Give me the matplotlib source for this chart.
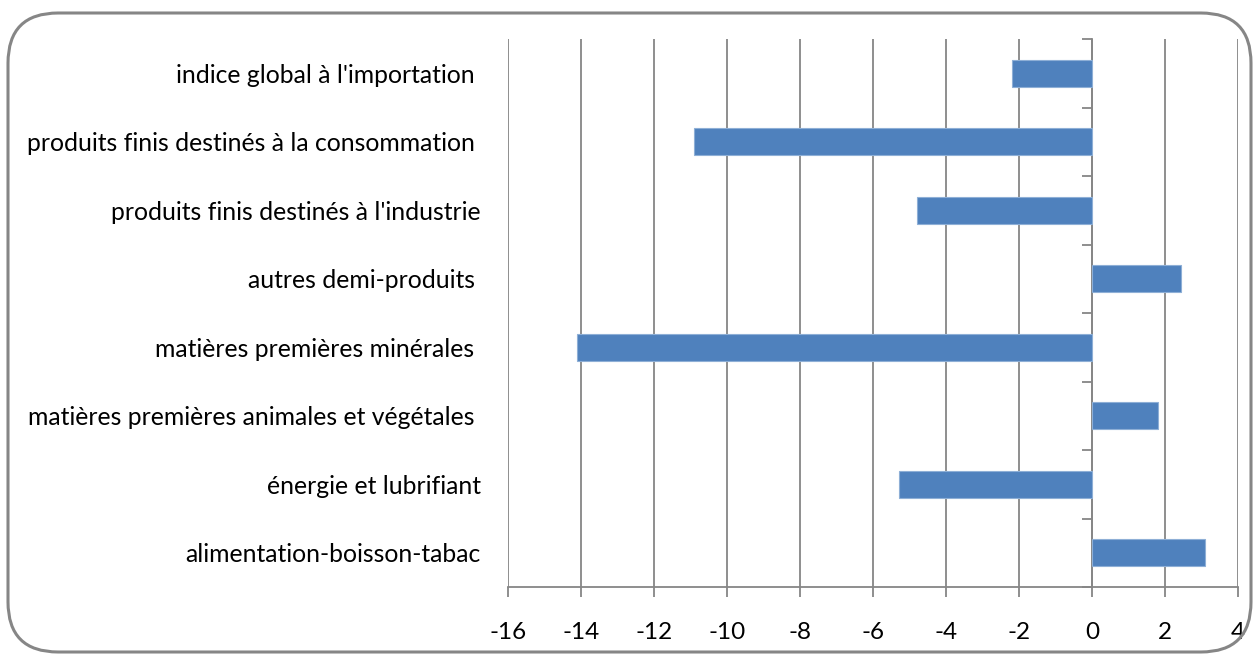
import matplotlib
matplotlib.use("Agg")
import matplotlib.pyplot as plt
from matplotlib.patches import FancyBboxPatch
import numpy as np

categories = [
    "alimentation-boisson-tabac",
    "énergie et lubrifiant",
    "matières premières animales et végétales ",
    "matières premières minérales ",
    "autres demi-produits ",
    "produits finis destinés à l'industrie",
    "produits finis destinés à la consommation ",
    "indice global à l'importation ",
]
values = [3.1, -5.3, 1.8, -14.1, 2.45, -4.8, -10.9, -2.2]
xticks = [-16, -14, -12, -10, -8, -6, -4, -2, 0, 2, 4]

W, H = 1253, 655
fig = plt.figure(figsize=(W / 100, H / 100), dpi=100)
plt.rcParams['font.family'] = ['Lato', 'DejaVu Sans']

grey = '#868686'
ax = fig.add_axes([508 / W, (H - 587) / H, (1238 - 508) / W, (587 - 39) / H])

y = np.arange(len(categories))
ax.barh(y, values, height=0.4, color='#4F81BD', edgecolor='#8EAFD6', linewidth=0.8, zorder=3)

ax.set_xlim(-16, 4)
ax.set_ylim(-0.5, len(categories) - 0.5)
ax.set_xticks(xticks)
ax.set_xticklabels([str(v) for v in xticks], fontsize=17.5, color='black')
ax.tick_params(axis='x', length=7, width=1.3, color=grey, pad=18)
ax.grid(axis='x', color=grey, linewidth=1.3, zorder=1)

ax.set_yticks(y)
ax.set_yticklabels(categories, fontsize=17.8, color='black')
ax.tick_params(axis='y', length=0, pad=19.5)

for s in ['top', 'right', 'left']:
    ax.spines[s].set_visible(False)
ax.spines['bottom'].set_color(grey)
ax.spines['bottom'].set_linewidth(1.3)

sec = ax.secondary_yaxis(0, transform=ax.transData)
sec.set_yticks(np.arange(-0.5, len(categories), 1.0))
sec.set_yticklabels([])
sec.tick_params(axis='y', length=7, width=1.3, color=grey)
sec.spines['left'].set_color(grey)
sec.spines['left'].set_linewidth(1.3)

border = FancyBboxPatch((8 / W, 3 / H), (1251 - 8) / W, (642 - 3) / H,
                        boxstyle="round,pad=0,rounding_size=0.04",
                        transform=fig.transFigure, facecolor='none',
                        edgecolor=grey, linewidth=2.2, mutation_aspect=W / H)
fig.patches.append(border)

fig.savefig("out.png", dpi=100)
